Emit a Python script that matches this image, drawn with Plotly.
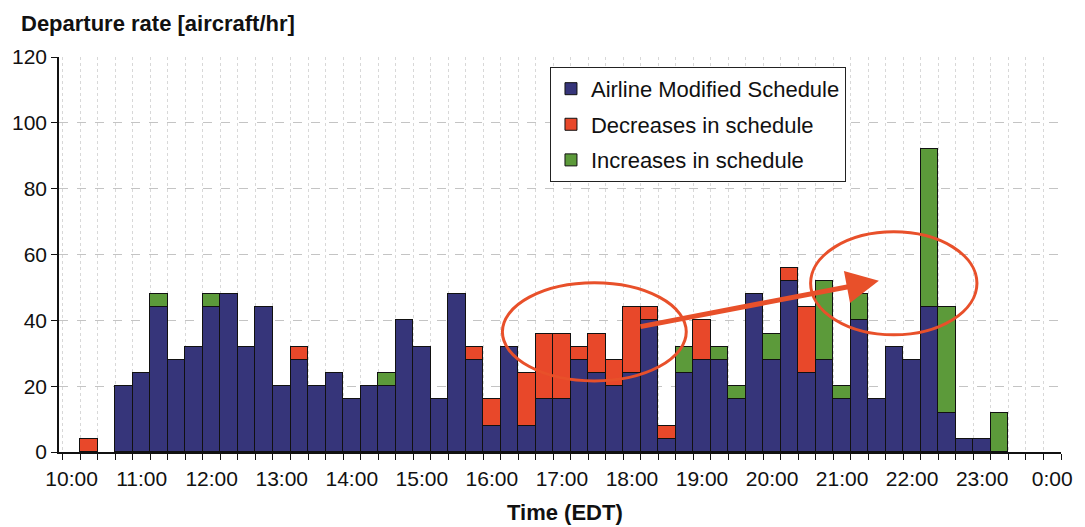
import plotly.graph_objects as go

# 15-minute departure slots from 10:00 through 0:00
slots = [f"{(10 + i // 4) % 24}:{(i % 4) * 15:02d}" for i in range(57)]
hour_labels = ["10:00", "11:00", "12:00", "13:00", "14:00", "15:00", "16:00",
               "17:00", "18:00", "19:00", "20:00", "21:00", "22:00", "23:00", "0:00"]

# departure rates [aircraft/hr] per slot
modified = [0, 0, 0, 20, 24, 44, 28, 32, 44, 48, 32, 44, 20, 28, 20, 24, 16, 20, 20, 40,
            32, 16, 48, 28, 8, 32, 8, 16, 16, 28, 24, 20, 24, 40, 4, 24, 28, 28, 16, 48,
            28, 52, 24, 28, 16, 40, 16, 32, 28, 44, 12, 4, 4, 0, 0, 0, 0]
decreases = [0, 4, 0, 0, 0, 0, 0, 0, 0, 0, 0, 0, 0, 4, 0, 0, 0, 0, 0, 0,
             0, 0, 0, 4, 8, 0, 16, 20, 20, 4, 12, 8, 20, 4, 4, 0, 12, 0, 0, 0,
             0, 4, 20, 0, 0, 0, 0, 0, 0, 0, 0, 0, 0, 0, 0, 0, 0]
increases = [0, 0, 0, 0, 0, 4, 0, 0, 4, 0, 0, 0, 0, 0, 0, 0, 0, 0, 4, 0,
             0, 0, 0, 0, 0, 0, 0, 0, 0, 0, 0, 0, 0, 0, 0, 8, 0, 4, 4, 0,
             8, 0, 0, 24, 4, 8, 0, 0, 0, 48, 32, 0, 0, 12, 0, 0, 0]

series = [
    ("Airline Modified Schedule", modified, "#36357a"),
    ("Decreases in schedule", decreases, "#e8482a"),
    ("Increases in schedule", increases, "#5c9a3a"),
]

FONT = "Arial, Liberation Sans, sans-serif"
x_pos = list(range(len(slots)))

fig = go.Figure()
for i, (name, vals, color) in enumerate(series):
    fig.add_trace(go.Bar(
        x=x_pos,
        y=[v if v else None for v in vals],
        name=name,
        legendgroup=f"g{i}",
        marker=dict(color=color, line=dict(color="#111111", width=1)),
        width=1.0,
        customdata=slots,
        hovertemplate="%{customdata}: %{y}<extra>" + name + "</extra>",
    ))

fig.update_layout(
    width=1085, height=527,
    margin=dict(l=53, r=18, t=57, b=75),
    barmode="stack", bargap=0,
    paper_bgcolor="white", plot_bgcolor="white",
    font=dict(family=FONT, size=21, color="#111111"),
    showlegend=True,
    legend=dict(
        x=0.490, y=0.975, xanchor="left", yanchor="top",
        bgcolor="white", bordercolor="#222222", borderwidth=1,
        font=dict(family=FONT, size=22, color="#111111"),
        traceorder="grouped", tracegroupgap=4,
        itemwidth=30,
    ),
)

fig.update_xaxes(
    range=[-0.72, 56.5],
    tickmode="array",
    tickvals=[4 * k for k in range(len(hour_labels))],
    ticktext=hour_labels,
    ticks="", showgrid=False,
    ticklabelstandoff=7,
    showline=True, linecolor="#111111", linewidth=1.5,
    zeroline=False,
    minor=dict(tickmode="linear", tick0=-0.5, dtick=1, ticks="outside",
               ticklen=6, tickcolor="#111111", tickwidth=1,
               showgrid=True, gridcolor="#d8d8d8", griddash="dot", gridwidth=1),
)
fig.update_yaxes(
    range=[0, 120], tickmode="linear", tick0=0, dtick=20,
    ticks="outside", ticklen=6, tickcolor="#111111",
    showline=True, linecolor="#111111", linewidth=1.5,
    showgrid=True, gridcolor="#c4c4c4", griddash="dash", gridwidth=1,
    zeroline=False,
)

# axis captions
fig.add_annotation(text="<b>Departure rate [aircraft/hr]</b>", xref="paper", yref="paper",
                   x=-0.040, y=1.086, xanchor="left", yanchor="middle",
                   showarrow=False, font=dict(family=FONT, size=22, color="#111111"))
fig.add_annotation(text="<b>Time (EDT)</b>", xref="paper", yref="paper",
                   x=0.505, y=-0.154, xanchor="center", yanchor="middle",
                   showarrow=False, font=dict(family=FONT, size=22, color="#111111"))

# highlight: peak-hour decreases shifted to later increases
HL = "#e8502a"
fig.add_shape(type="circle", xref="x", yref="y", x0=24.6, x1=35.1, y0=21.6, y1=51.4,
              line=dict(color=HL, width=3))
fig.add_shape(type="circle", xref="x", yref="y", x0=42.2, x1=51.7, y0=35.6, y1=66.9,
              line=dict(color=HL, width=3))
fig.add_annotation(x=46.1, y=52, ax=32.4, ay=38, xref="x", yref="y", axref="x", ayref="y",
                   text="", showarrow=True, arrowhead=2, arrowsize=1.3, arrowwidth=5,
                   arrowcolor=HL)

fig.write_html("out.html")
